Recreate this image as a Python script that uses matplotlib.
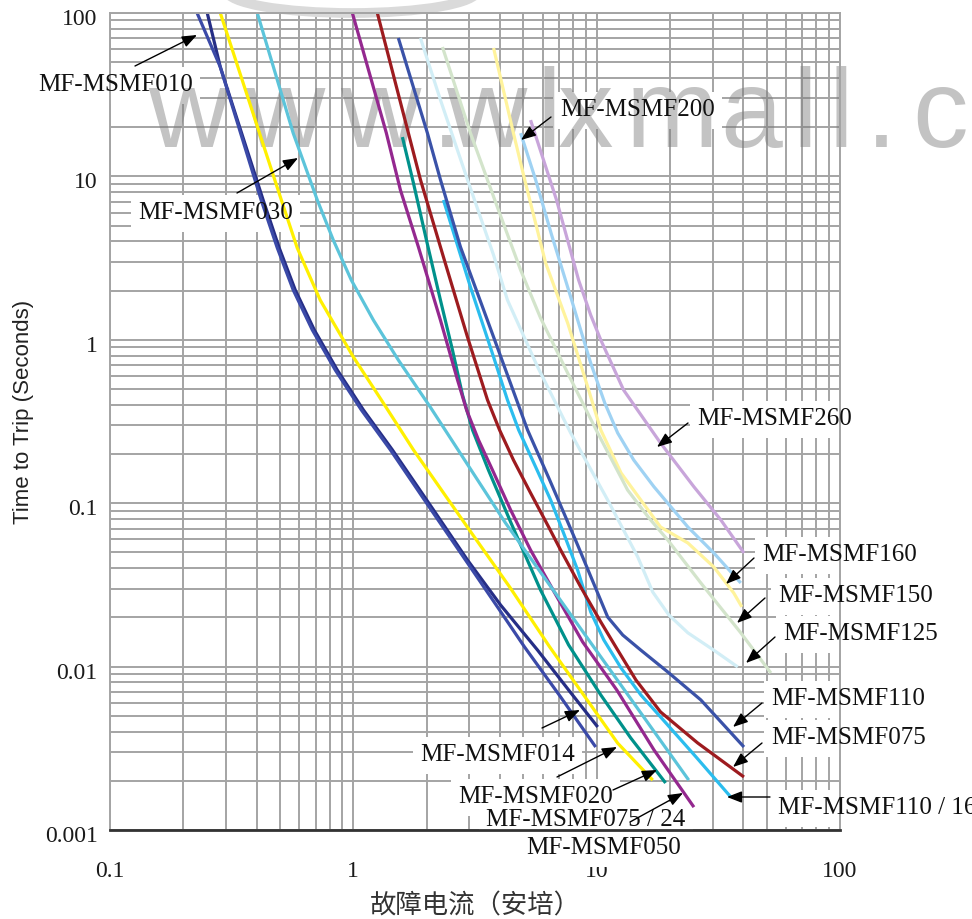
import matplotlib
matplotlib.use("Agg")
import matplotlib.pyplot as plt
from matplotlib.patches import Ellipse
from matplotlib.ticker import LogLocator, NullFormatter
from matplotlib.transforms import ScaledTranslation

# ---------------- data (current in A, time in s) ----------------
I_010 = [0.228, 0.284, 0.418, 0.487, 0.566, 0.678, 0.843, 1.079, 1.42, 2.09, 2.89, 3.91, 5.05, 7.11, 9.91]
t_010 = [100, 46.7, 7.17, 3.65, 2.02, 1.15, 0.653, 0.372, 0.212, 0.0909, 0.0449, 0.0232, 0.0132, 0.00652, 0.00322]

I_014 = [0.251, 0.284, 0.426, 0.496, 0.577, 0.691, 0.859, 1.10, 1.447, 2.135, 2.945, 4.03, 5.72, 7.67, 10.1]
t_014 = [100, 46.7, 7.17, 3.65, 2.02, 1.15, 0.653, 0.372, 0.212, 0.0909, 0.0449, 0.0238, 0.0126, 0.00719, 0.00427]

I_020 = [0.284, 0.506, 0.588, 0.731, 1.00, 1.304, 1.766, 3.06, 4.39, 6.41, 12.2, 17.0]
t_020 = [100, 7.17, 3.65, 1.75, 0.785, 0.428, 0.212, 0.0657, 0.0307, 0.0132, 0.0034, 0.00202]

I_030 = [0.403, 0.566, 0.711, 0.827, 0.981, 1.209, 1.531, 2.07, 4.22, 8.84, 23.9]
t_030 = [100, 18.4, 7.17, 4.08, 2.32, 1.32, 0.752, 0.388, 0.0757, 0.0161, 0.00202]

I_050 = [0.991, 1.367, 1.561, 1.851, 2.28, 2.68, 2.92, 3.27, 3.73, 4.43, 5.35, 6.84, 8.76, 12.1, 17.2, 25.1]
t_050 = [100, 18.4, 8.26, 3.70, 1.32, 0.568, 0.372, 0.2436, 0.1597, 0.0909, 0.0517, 0.0270, 0.01415, 0.00719, 0.00309, 0.00138]

I_075_24 = [1.591, 1.766, 1.997, 2.28, 2.555, 2.81, 3.09, 3.59, 4.43, 5.88, 7.67, 10.4, 13.8, 19.2]
t_075_24 = [17.4, 9.11, 4.08, 1.75, 0.866, 0.4595, 0.2805, 0.1597, 0.0767, 0.0294, 0.01356, 0.0067, 0.00366, 0.00194]

I_075 = [1.255, 1.684, 1.887, 2.346, 2.945, 3.56, 3.99, 4.55, 5.35, 6.35, 7.11, 8.60, 10.4, 12.2, 14.5, 18.3, 26.0, 40.3]
t_075 = [100, 18.4, 9.55, 3.21, 1.04, 0.428, 0.2805, 0.1838, 0.1155, 0.0715, 0.0517, 0.0307, 0.01875, 0.01263, 0.00828, 0.00528, 0.00341, 0.00211]

I_110 = [1.531, 2.016, 2.28, 2.756, 3.77, 5.20, 6.41, 8.35, 11.1, 12.8, 15.2, 19.6, 26.8, 40.3]
t_110 = [70.3, 18.4, 9.55, 3.70, 1.04, 0.2805, 0.1387, 0.0555, 0.0201, 0.0156, 0.0126, 0.00927, 0.00625, 0.00322]

I_110_16 = [2.346, 3.03, 3.77, 4.30, 4.78, 5.61, 6.47, 7.31, 8.35, 9.45, 10.7, 12.6, 15.2, 18.3, 25.6, 35.6]
t_110_16 = [7.17, 2.10, 0.785, 0.428, 0.2805, 0.167, 0.1046, 0.0657, 0.039, 0.0216, 0.01455, 0.0098, 0.0067, 0.00492, 0.0028, 0.00159]

I_125 = [1.887, 2.28, 2.945, 3.77, 4.30, 5.72, 7.82, 11.1, 14.75, 17.0, 19.8, 23.7, 30.3, 38.0]
t_125 = [70.3, 29.4, 9.55, 3.30, 1.75, 0.682, 0.269, 0.1046, 0.0469, 0.0286, 0.0207, 0.0161, 0.0126, 0.00995]

I_150 = [2.324, 3.03, 3.88, 4.87, 5.88, 7.60, 10.1, 13.4, 16.4, 19.6, 26.8, 39.1, 52.0]
t_150 = [61.9, 18.4, 6.68, 2.67, 1.36, 0.626, 0.269, 0.1204, 0.0812, 0.0595, 0.0325, 0.0161, 0.00914]

I_160 = [3.77, 4.55, 5.06, 6.17, 7.60, 9.19, 10.4, 12.6, 18.3, 23.7, 30.3, 36.6, 39.5]
t_160 = [61.1, 18.4, 9.55, 2.95, 1.267, 0.514, 0.2805, 0.153, 0.0715, 0.0571, 0.0407, 0.0282, 0.0232]

I_200 = [4.87, 5.61, 6.53, 7.82, 9.45, 10.8, 12.2, 14.2, 17.2, 23.7, 30.3, 39.1]
t_200 = [18.4, 9.55, 4.38, 1.83, 0.721, 0.410, 0.269, 0.1838, 0.126, 0.0715, 0.0496, 0.0325]

I_260 = [5.35, 6.84, 8.43, 9.45, 10.4, 12.9, 18.3, 25.1, 32.4, 40.3]
t_260 = [22.1, 7.17, 2.32, 1.418, 0.997, 0.493, 0.2335, 0.126, 0.0789, 0.0496]

x_ticks = [0.1, 1, 10, 100]
x_tick_labels = ["0.1", "1", "10", "100"]
y_ticks = [0.001, 0.01, 0.1, 1, 10, 100]
y_tick_labels = ["0.001", "0.01", "0.1", "1", "10", "100"]

x_label = "故障电流（安培）"
y_label = "Time to Trip (Seconds)"
watermark_chars = ["w", "w", "w", ".", "w", "l", "x", "m", "a", "l", "l", ".", "c", "o", "m"]
watermark_x = [148, 244, 340, 432, 446, 536, 558, 626, 720, 792, 828, 866, 912, 975, 1040]

# series drawn back to front: (I, t, colour)
series = [
    (I_260, t_260, "#C8A5DA"),
    (I_200, t_200, "#9FD2F3"),
    (I_160, t_160, "#FFF39C"),
    (I_150, t_150, "#D3E4CB"),
    (I_125, t_125, "#D2EEF6"),
    (I_110_16, t_110_16, "#2BBDEE"),
    (I_110, t_110, "#3A52A8"),
    (I_075, t_075, "#9D1B1F"),
    (I_075_24, t_075_24, "#00918B"),
    (I_050, t_050, "#94288F"),
    (I_030, t_030, "#5CC4DA"),
    (I_020, t_020, "#FFF000"),
    (I_014, t_014, "#262E86"),
    (I_010, t_010, "#3B4AA8"),
]

# label text (left x, centre y) in figure pixels measured from the top
labels = [
    ("MF-MSMF010", 38, 85),
    ("MF-MSMF030", 138, 213),
    ("MF-MSMF200", 560, 110),
    ("MF-MSMF260", 697, 419),
    ("MF-MSMF160", 762, 555),
    ("MF-MSMF150", 778, 596),
    ("MF-MSMF125", 783, 634),
    ("MF-MSMF110", 771, 699),
    ("MF-MSMF075", 771, 738),
    ("MF-MSMF110 / 16", 778, 808),
    ("MF-MSMF014", 420, 755),
    ("MF-MSMF020", 458, 797),
    ("MF-MSMF075 / 24", 486, 820),
    ("MF-MSMF050", 526, 848),
]
# arrows (tail, head) in figure pixels from the top
arrows = [
    ((135, 66), (197, 35)),
    ((237, 193), (298, 158)),
    ((551, 117), (521, 140)),
    ((688, 423), (657, 447)),
    ((754, 558), (726, 584)),
    ((765, 598), (737, 623)),
    ((775, 637), (746, 663)),
    ((762, 703), (733, 727)),
    ((762, 743), (733, 767)),
    ((770, 797), (727, 797)),
    ((542, 728), (580, 710)),
    ((557, 777), (617, 747)),
    ((613, 790), (657, 770)),
    ((630, 822), (683, 793)),
]

# ---------------- figure ----------------
W, H = 972, 919
fig = plt.figure(figsize=(W / 100, H / 100), dpi=100)
ax = fig.add_axes([110 / W, 1 - 830 / H, 730 / W, 817 / H])
ax.set_xscale("log")
ax.set_yscale("log")
ax.set_xlim(0.1, 100)
ax.set_ylim(0.001, 100)

for axis in (ax.xaxis, ax.yaxis):
    axis.set_minor_locator(LogLocator(base=10, subs=range(2, 10), numticks=20))
    axis.set_minor_formatter(NullFormatter())

ax.set_xticks(x_ticks)
ax.set_xticklabels(x_tick_labels, fontfamily="Liberation Serif", fontsize=17, color="#1a1a1a")
ax.set_yticks(y_ticks)
ax.set_yticklabels(y_tick_labels, fontfamily="Liberation Serif", fontsize=17, color="#1a1a1a")
ax.tick_params(which="both", length=0)
ax.tick_params(axis="x", pad=22)
ax.tick_params(axis="y", pad=9)
for lab in ax.get_yticklabels():
    lab.set_transform(lab.get_transform() + ScaledTranslation(0, -4 / 100, fig.dpi_scale_trans))

ax.set_axisbelow(True)
ax.grid(True, which="both", color="#a4a4a4", lw=1.4)
for s in ("left", "top", "right"):
    ax.spines[s].set_color("#a4a4a4")
    ax.spines[s].set_linewidth(1.4)
ax.spines["bottom"].set_color("#333333")
ax.spines["bottom"].set_linewidth(2)

for I, t, c in series:
    ax.plot(I, t, color=c, lw=2.3, zorder=2, solid_capstyle="butt", solid_joinstyle="round")

# watermark (above the label boxes, below the curves)
for ch, x in zip(watermark_chars, watermark_x):
    ax.text(x / W, 1 - 147 / H, ch, transform=fig.transFigure, fontsize=80,
            family="Liberation Sans", color="#7a7a7a", alpha=0.45, va="baseline",
            ha="left", zorder=1.5, clip_on=False)
logo_arc = Ellipse((352 / W, 1 + 9 / H), 250 / W, 44 / H, transform=fig.transFigure,
                   fill=False, ec="#dadada", lw=7, zorder=1.5, clip_on=False)
ax.add_artist(logo_arc)

for txt, x, y in labels:
    # white box hiding the grid
    ax.annotate(txt, xy=(x, H - y), xycoords="figure pixels", ha="left", va="center",
                fontsize=18, family="Liberation Serif", color="white", zorder=1.2,
                bbox=dict(boxstyle="square,pad=0.3", fc="white", ec="none"),
                annotation_clip=False)
    # the visible text
    ax.annotate(txt, xy=(x, H - y), xycoords="figure pixels", ha="left", va="center",
                fontsize=18, family="Liberation Serif", color="#111111", zorder=3,
                annotation_clip=False)

for (tx, ty), (hx, hy) in arrows:
    ax.annotate("", xy=(hx, H - hy), xycoords="figure pixels",
                xytext=(tx, H - ty), textcoords="figure pixels",
                arrowprops=dict(arrowstyle="-|>,head_length=0.9,head_width=0.35",
                                color="black", lw=1.0, shrinkA=0, shrinkB=0),
                zorder=4, annotation_clip=False)

ax.set_xlabel(x_label, fontfamily=["Noto Sans CJK SC", "DejaVu Sans"], fontsize=19, color="#333333")
ax.xaxis.set_label_coords((475 - 110) / 730, (830 - 892) / 817)
ax.set_ylabel(y_label, fontfamily="Liberation Sans", fontsize=16, color="#222222")
ax.yaxis.set_label_coords((34 - 110) / 730, (830 - 412) / 817)

fig.savefig("out.png", dpi=100)
